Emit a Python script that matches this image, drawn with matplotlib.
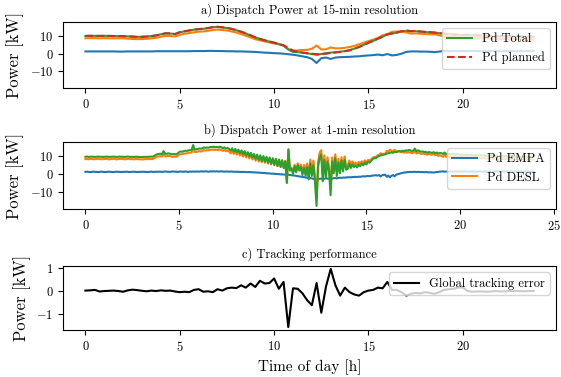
import numpy as np
import matplotlib
matplotlib.use("Agg")
import matplotlib.pyplot as plt

plt.rcParams['font.family'] = 'serif'
plt.rcParams['font.serif'] = ['cmr10']
plt.rcParams['mathtext.fontset'] = 'cm'
plt.rcParams['axes.formatter.use_mathtext'] = True
plt.rcParams['font.size'] = 9

# 15-min data (96 steps)
planned_15 = [
    10.2, 10.2, 10.2, 10.2, 10.2, 10.2, 10.1, 10.1, 10.0, 9.9, 9.8, 9.6, 9.6, 9.8, 10.0, 10.4,
    11.0, 11.7, 11.6, 11.2, 12.3, 12.8, 13.3, 13.8, 14.0, 14.3, 14.6, 15.2, 15.4, 15.1, 14.8, 14.2,
    13.5, 12.6, 11.6, 10.5, 9.4, 8.5, 7.7, 7.0, 6.3, 5.6, 4.8, 3.3, 1.8, 1.0, 0.6, 0.3,
    0.0, -0.3, -0.4, 0.0, 0.4, 0.7, 1.0, 1.4, 1.9, 2.8, 3.8, 5.0, 6.3, 7.4, 8.6, 9.8,
    11.0, 11.6, 12.1, 12.8, 13.3, 12.9, 13.0, 12.7, 12.5, 12.3, 12.1, 11.8, 11.5, 11.2, 11.0, 10.8,
    10.7, 10.8, 10.6, 10.5, 10.4, 10.3, 10.2, 10.1, 10.0, 10.0, 9.9, 9.9, 9.8, 9.8, 9.8, 9.8,
]
total_15 = [
    10.1, 10.2, 10.2, 10.1, 10.2, 10.1, 10.1, 10.0, 10.0, 9.9, 9.7, 9.6, 9.7, 9.8, 10.1, 10.5,
    11.1, 11.6, 11.5, 11.3, 12.2, 12.8, 13.2, 13.7, 14.1, 14.2, 14.7, 15.1, 15.3, 15.0, 14.7, 14.1,
    13.4, 12.5, 11.5, 10.4, 9.3, 8.4, 7.6, 6.9, 6.2, 5.5, 4.6, 2.4, 1.0, 0.9, 0.6, 0.2,
    -0.2, -0.6, -0.2, 0.3, 0.6, 0.8, 1.1, 1.5, 2.0, 2.9, 3.9, 5.1, 6.2, 7.3, 8.5, 9.7,
    11.0, 11.5, 12.0, 12.7, 13.1, 12.8, 12.9, 12.6, 12.4, 12.2, 12.0, 11.7, 11.4, 11.1, 10.9, 10.7,
    10.6, 10.7, 10.5, 10.4, 10.3, 10.2, 10.1, 10.0, 9.9, 9.9, 9.8, 9.8, 9.7, 9.7, 9.7, 9.7,
]
empa_15 = [
    1.3, 1.3, 1.3, 1.3, 1.3, 1.3, 1.3, 1.2, 1.2, 1.3, 1.3, 1.3, 1.3, 1.3, 1.3, 1.4,
    1.4, 1.4, 1.4, 1.4, 1.4, 1.4, 1.4, 1.5, 1.5, 1.5, 1.6, 1.6, 1.5, 1.5, 1.4, 1.4,
    1.3, 1.3, 1.2, 1.1, 1.0, 0.8, 0.6, 0.5, 0.3, 0.2, 0.0, -0.3, -0.6, -1.0, -1.5, -2.0,
    -3.0, -5.3, -2.6, -2.2, -3.0, -2.2, -2.0, -1.9, -1.8, -1.6, -1.5, -1.2, -1.0, -0.8, -0.5, -0.9,
    -0.2, -1.0, -0.7, 0.0, 1.0, 1.3, 1.3, 1.2, 1.2, 1.1, 0.9, 1.2, 1.6, 1.4, 1.5, 1.5,
    1.5, 1.5, 1.6, 1.5, 1.5, 1.5, 1.5, 1.5, 1.5, 1.5, 1.5, 1.5, 1.5, 1.5, 1.5, 1.5,
]
error_15 = [
    0.02, 0.03, 0.05, -0.02, 0.00, 0.01, 0.02, 0.00, -0.03, 0.03, 0.06, 0.04, 0.01, -0.01, 0.02, 0.00,
    0.03, 0.01, 0.02, -0.02, -0.05, -0.03, -0.05, 0.05, 0.08, -0.03, -0.01, -0.05, 0.08, 0.02, 0.12, 0.15,
    0.13, 0.25, 0.15, 0.33, 0.18, 0.45, 0.33, 0.35, 0.55, 0.10, 0.40, -1.58, 0.12, 0.10, -0.10, -0.40,
    -0.62, 0.35, -0.95, 0.20, 0.97, 0.25, -0.20, 0.15, -0.05, -0.15, -0.20, -0.05, 0.02, 0.05, 0.15, 0.12,
    0.40, 0.05, 0.05, -0.05, -0.20, -0.12, -0.08, -0.10, -0.05, -0.08, -0.12, -0.05, 0.05, 0.08, 0.10, 0.15,
    0.15, 0.00, -0.03, -0.02, -0.02, -0.03, -0.02, 0.00, -0.02, -0.01, 0.00, 0.00, 0.00, -0.01, 0.00, 0.00,
]

# fine resolution data (one row per hour, 5-min samples)
total_fine = [
    9.8, 9.9, 9.7, 9.8, 9.9, 9.8, 9.7, 9.8, 9.9, 9.8, 9.8, 9.7,
    9.8, 9.8, 9.9, 9.7, 9.8, 9.8, 9.9, 9.8, 9.7, 9.8, 9.9, 9.8,
    9.8, 9.7, 9.8, 9.9, 9.8, 9.7, 9.8, 9.7, 9.8, 9.8, 9.7, 9.7,
    9.6, 9.7, 9.8, 9.7, 9.8, 9.8, 9.9, 9.8, 10.3, 10.8, 11.2, 11.4,
    11.5, 11.3, 13.0, 11.6, 11.4, 11.7, 11.6, 11.3, 11.2, 11.4, 11.1, 11.6,
    12.4, 12.8, 12.6, 13.0, 13.2, 13.1, 13.4, 13.5, 13.6, 16.4, 13.9, 14.0,
    14.2, 14.5, 14.3, 14.6, 15.1, 14.8, 15.0, 14.9, 15.3, 15.2, 15.5, 15.1,
    15.4, 15.0, 15.5, 15.2, 14.6, 15.1, 14.4, 14.8, 14.2, 13.2, 14.6, 12.8,
    14.2, 12.4, 13.8, 11.8, 13.4, 11.2, 13.0, 10.6, 12.4, 10.0, 12.0, 9.4,
    11.4, 8.6, 11.0, 8.0, 10.6, 7.4, 10.2, 7.0, 9.8, 6.4, 9.4, 5.8,
    9.0, 5.2, 8.6, 4.6, 8.2, 4.0, 7.8, 3.4, 7.2, -5.0, 13.8, 2.0,
    3.0, 0.2, 4.5, 1.0, 5.0, 2.0, 4.0, -0.5, 3.5, -1.0, 4.0, -3.0,
    6.0, -1.0, 5.0, -4.0, -17.9, 4.0, 9.5, 11.0, -4.0, 8.0, -2.0, 7.0,
    2.0, -11.9, 7.0, 0.5, 9.0, -1.0, 6.5, 0.5, 7.5, 1.5, 8.0, 2.5,
    3.0, 6.0, 3.5, 5.5, 4.0, 5.0, 3.8, 5.5, 4.5, 6.0, 5.0, 6.5,
    5.5, 7.0, 6.5, 7.5, 8.5, 9.0, 9.0, 9.8, 10.2, 10.5, 10.8, 11.0,
    11.2, 11.6, 11.8, 12.0, 12.3, 12.0, 12.6, 12.4, 12.8, 13.0, 12.8, 13.2,
    13.0, 13.4, 13.2, 13.6, 13.5, 13.0, 13.3, 14.4, 12.8, 13.4, 13.0, 12.6,
    12.8, 12.4, 12.6, 12.0, 12.5, 12.2, 12.0, 12.4, 11.8, 12.2, 11.6, 12.0,
    11.8, 11.4, 12.2, 11.2, 11.6, 11.4, 11.0, 11.5, 11.2, 10.9, 11.3, 11.0,
    10.8, 11.2, 10.9, 10.7, 11.0, 10.8, 10.6, 10.9, 10.7, 10.5, 10.8, 10.6,
    10.5, 10.7, 10.4, 10.6, 10.3, 10.5, 10.4, 10.2, 10.5, 10.3, 10.1, 10.4,
    10.2, 10.0, 10.3, 10.1, 9.9, 10.2, 10.0, 9.8, 10.1, 9.9, 10.0, 9.8,
    9.9, 9.7, 10.0, 9.8, 9.7, 9.9, 9.8, 9.7, 9.9, 9.8, 9.7, 9.8,
]
empa_fine = [
    1.3, 1.4, 1.3, 1.2, 1.3, 1.4, 1.3, 1.3, 1.2, 1.3, 1.4, 1.3,
    1.3, 1.2, 1.3, 1.4, 1.3, 1.3, 1.2, 1.3, 1.4, 1.3, 1.3, 1.2,
    1.3, 1.3, 1.4, 1.3, 1.2, 1.3, 1.3, 1.4, 1.3, 1.2, 1.3, 1.3,
    1.3, 1.4, 1.3, 1.3, 1.2, 1.3, 1.4, 1.3, 1.3, 1.4, 1.3, 1.4,
    1.4, 1.3, 1.4, 1.5, 1.4, 1.4, 1.3, 1.4, 1.5, 1.4, 1.4, 1.3,
    1.4, 1.5, 1.4, 1.4, 1.5, 1.4, 1.3, 1.5, 1.4, 1.5, 1.4, 1.5,
    1.5, 1.4, 1.6, 1.5, 1.5, 1.6, 1.5, 1.4, 1.6, 1.5, 1.6, 1.5,
    1.6, 1.5, 1.5, 1.6, 1.5, 1.4, 1.5, 1.5, 1.4, 1.5, 1.4, 1.4,
    1.3, 1.4, 1.3, 1.3, 1.2, 1.3, 1.2, 1.2, 1.1, 1.2, 1.1, 1.1,
    1.0, 1.0, 0.9, 0.9, 0.8, 0.7, 0.7, 0.6, 0.5, 0.5, 0.4, 0.3,
    0.3, 0.2, 0.1, 0.1, 0.0, -0.1, -0.1, -0.2, -0.3, -0.4, -0.3, -0.5,
    -0.6, -0.7, -0.8, -1.0, -1.1, -1.3, -1.4, -1.6, -1.7, -1.9, -2.0, -2.1,
    -2.2, -2.4, -2.6, -3.0, -4.0, -2.8, -2.6, -2.5, -3.0, -2.6, -2.4, -2.5,
    -2.6, -3.2, -2.4, -2.3, -2.2, -2.4, -2.1, -2.0, -2.1, -1.9, -2.0, -1.8,
    -1.8, -1.7, -1.8, -1.6, -1.6, -1.5, -1.6, -1.4, -1.5, -1.3, -1.2, -1.3,
    -1.1, -1.0, -1.2, -0.9, -0.8, -0.7, -0.6, -0.8, -0.5, -1.3, -0.6, -0.4,
    -0.3, -1.5, -0.8, -1.8, -0.9, -0.5, -1.2, -0.3, 0.0, 0.2, 0.5, 0.7,
    0.9, 1.0, 1.1, 1.2, 1.3, 1.2, 1.3, 1.3, 1.2, 1.3, 1.2, 1.2,
    1.2, 1.1, 1.2, 1.1, 1.0, 1.1, 1.0, 0.9, 1.1, 1.2, 1.3, 1.4,
    1.5, 1.6, 1.4, 1.5, 1.4, 1.5, 1.6, 1.5, 1.4, 1.5, 1.5, 1.6,
    1.5, 1.4, 1.5, 1.6, 1.5, 1.5, 1.4, 1.5, 1.6, 1.5, 1.4, 1.5,
    1.5, 1.6, 1.5, 1.4, 1.5, 1.5, 1.6, 1.5, 1.4, 1.5, 1.5, 1.6,
    1.5, 1.4, 1.5, 1.5, 1.6, 1.5, 1.4, 1.5, 1.5, 1.6, 1.5, 1.4,
    1.5, 1.5, 1.6, 1.5, 1.4, 1.5, 1.5, 1.6, 1.5, 1.4, 1.5, 1.5,
]

t15 = np.arange(len(planned_15)) * 0.25
tfine = np.arange(len(total_fine)) / 12.0
total_15 = np.array(total_15)
empa_15 = np.array(empa_15)
desl_15 = total_15 - empa_15
total_fine = np.array(total_fine)
empa_fine = np.array(empa_fine)
desl_fine = total_fine - empa_fine

fig = plt.figure(figsize=(5.61, 3.77), dpi=100)
W, H = 561.0, 377.0
def box(l, r, t, b):
    return [l / W, 1 - b / H, (r - l) / W, (b - t) / H]

ax1 = fig.add_axes(box(63, 556, 22, 88))
ax2 = fig.add_axes(box(63, 556, 142, 209))
ax3 = fig.add_axes(box(63, 556, 266, 330))

title_fs = 9
ylab_fs = 12

ax2.plot(tfine, empa_fine, color='C0', label='Pd EMPA')
ax2.plot(tfine, desl_fine, color='C1', label='Pd DESL')
ax2.plot(tfine, total_fine, color='C2')
ax2.set_title('b) Dispatch Power at 1-min resolution', fontsize=title_fs)
ax2.set_ylabel('Power [kW]', fontsize=ylab_fs)
ax2.legend(loc='upper right')

ax1.sharey(ax2)
ax1.plot(t15, empa_15, color='C0')
ax1.plot(t15, desl_15, color='C1')
ax1.plot(t15, total_15, color='C2', label='Pd Total')
ax1.plot(t15, planned_15, '--', color='C3', label='Pd planned')
ax1.set_title('a) Dispatch Power at 15-min resolution', fontsize=title_fs)
ax1.set_ylabel('Power [kW]', fontsize=ylab_fs)
ax1.legend(loc='upper right')

ax3.plot(t15, error_15, color='k', label='Global tracking error')
ax3.set_title('c) Tracking performance', fontsize=title_fs)
ax3.set_ylabel('Power [kW]', fontsize=ylab_fs)
ax3.set_xlabel('Time of day [h]', fontsize=11)
ax3.legend(loc='upper right')

fig.savefig('out.png', dpi=100)
